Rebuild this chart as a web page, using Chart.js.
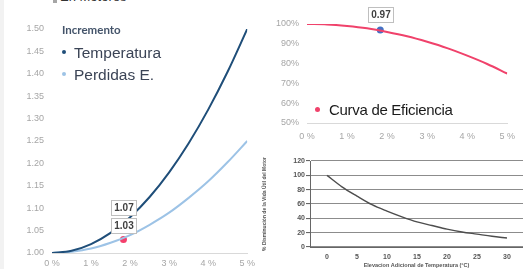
<!DOCTYPE html>
<html>
<head>
<meta charset="utf-8">
<script src="https://cdn.jsdelivr.net/npm/chart.js@4.4.1/dist/chart.umd.min.js"></script>
<style>
  html, body { margin: 0; padding: 0; background: #fff; }
  #wrap { position: relative; width: 523px; height: 269px; overflow: hidden; background: #fff; font-family: "Liberation Sans", Arial, sans-serif; }
  #wrap canvas { position: absolute; }
  .strip { position: absolute; left: 0; top: 0; width: 4px; height: 269px; background: #f2f2f2; }
  .head { position: absolute; left: 60px; top: -10px; font-size: 13px; line-height: 13px; color: #333; white-space: nowrap; }
  .sq { position: absolute; left: 53px; top: 0; width: 4px; height: 3px; background: #a6a6a6; }
  .lg { position: absolute; white-space: nowrap; }
  .dot { position: absolute; border-radius: 50%; }
  #vidaChart { filter: blur(0.55px); }
</style>
</head>
<body>
<div id="wrap">
  <div class="strip"></div>
  <div class="sq"></div>
  <div class="head">En Motores</div>
  <canvas id="incrementoChart" width="260" height="269" style="left:0;top:0"></canvas>
  <canvas id="eficienciaChart" width="263" height="145" style="left:260px;top:0"></canvas>
  <canvas id="vidaChart" width="263" height="129" style="left:260px;top:140px"></canvas>

  <div class="lg" style="left:62px;top:24px;font:bold 11.5px Lato, sans-serif;line-height:11.5px;color:#44546a">Incremento</div>
  <div class="dot" style="left:62px;top:50px;width:4px;height:4px;background:#1f4e79"></div>
  <div class="lg" style="left:74px;top:45px;font-size:15.5px;line-height:15.5px;color:#3b4456">Temperatura</div>
  <div class="dot" style="left:62px;top:72px;width:4px;height:4px;background:#9dc3e6"></div>
  <div class="lg" style="left:74px;top:67px;font-size:15.5px;line-height:15.5px;color:#3b4456">Perdidas E.</div>

  <div class="dot" style="left:315px;top:107px;width:5px;height:5px;background:#f0426b"></div>
  <div class="lg" style="left:329px;top:102px;font-size:15px;line-height:15px;letter-spacing:-0.3px;color:#1a1a1a">Curva de Eficiencia</div>
</div>

<script>
// desbalance de tension (%)
const desbalance = [0, 0.5, 1, 1.5, 2, 2.5, 3, 3.5, 4, 4.5, 5];
const temperatura = [1.000, 1.005, 1.020, 1.045, 1.080, 1.125, 1.180, 1.245, 1.320, 1.405, 1.500];
const perdidas = [1.000, 1.003, 1.010, 1.023, 1.040, 1.063, 1.090, 1.123, 1.160, 1.203, 1.250];
const eficiencia = [1.000, 0.998, 0.990, 0.978, 0.960, 0.938, 0.910, 0.878, 0.840, 0.798, 0.750];

// punto de operacion actual
const puntoActual = 1.83;
const tempActual = 1.07;
const perdActual = 1.03;
const efActual = 0.97;

// vida util vs elevacion de temperatura
const elevacion = [0, 2.5, 5, 7.5, 10, 12.5, 15, 17.5, 20, 22.5, 25, 27.5, 30];
const vidaUtil = [100, 84, 71, 59, 50, 42, 35, 30, 25, 21, 18, 15, 12.5];

// ticks
const desbalanceTicks = [0, 1, 2, 3, 4, 5];
const desbalanceLabels = ['0 %', '1 %', '2 %', '3 %', '4 %', '5 %'];
const incrementoTicks = [1.00, 1.05, 1.10, 1.15, 1.20, 1.25, 1.30, 1.35, 1.40, 1.45, 1.50];
const incrementoLabels = ['1.00', '1.05', '1.10', '1.15', '1.20', '1.25', '1.30', '1.35', '1.40', '1.45', '1.50'];
const eficienciaTicks = [0.5, 0.6, 0.7, 0.8, 0.9, 1.0];
const eficienciaLabels = ['50%', '60%', '70%', '80%', '90%', '100%'];
const elevacionTicks = [0, 5, 10, 15, 20, 25, 30];
const vidaTicks = [0, 20, 40, 60, 80, 100, 120];

Chart.defaults.font.family = '"Liberation Sans", Arial, sans-serif';
Chart.defaults.animation = false;

const toPoints = (xs, ys) => xs.map((x, i) => ({ x, y: ys[i] }));
const fixTicks = (values) => (scale) => { scale.ticks = values.map(v => ({ value: v })); };

// cajas de etiqueta sobre el punto actual
const boxLabels = {
    id: 'boxLabels',
    afterDatasetsDraw(chart, args, opts) {
        const pt = chart.getDatasetMeta(opts.dataset).data[0];
        if (!pt) return;
        const ctx = chart.ctx;
        ctx.save();
        ctx.font = 'bold 10px "Liberation Sans", Arial';
        ctx.textAlign = 'center';
        ctx.textBaseline = 'middle';
        opts.items.forEach(it => {
            const w = Math.round(ctx.measureText(it.text).width + 6);
            const h = 15;
            const x0 = Math.round(pt.x - w / 2) + 0.5;
            const y0 = Math.round(pt.y + it.dy - h / 2) + 0.5;
            ctx.fillStyle = '#fff';
            ctx.fillRect(x0, y0, w, h);
            ctx.strokeStyle = '#bfbfbf';
            ctx.lineWidth = 1;
            ctx.strokeRect(x0, y0, w, h);
            ctx.fillStyle = '#404040';
            ctx.fillText(it.text, x0 + w / 2, y0 + h / 2 + 0.5);
        });
        ctx.restore();
    }
};

function createIncrementoChart() {
    const ctx = document.getElementById('incrementoChart').getContext('2d');
    return new Chart(ctx, {
        type: 'line',
        data: {
            datasets: [{
                label: 'Temperatura',
                data: toPoints(desbalance, temperatura),
                borderColor: '#1f4e79',
                borderWidth: 2,
                pointRadius: 0,
                cubicInterpolationMode: 'monotone'
            }, {
                label: 'Perdidas E.',
                data: toPoints(desbalance, perdidas),
                borderColor: '#9dc3e6',
                borderWidth: 2,
                pointRadius: 0,
                cubicInterpolationMode: 'monotone'
            }, {
                label: 'Actual',
                data: [{ x: puntoActual, y: perdActual }],
                showLine: false,
                pointRadius: 3.5,
                pointBackgroundColor: '#f43f6b',
                pointBorderWidth: 0
            }]
        },
        options: {
            responsive: false,
            devicePixelRatio: 1,
            layout: { padding: { top: 29, right: 9, left: 0, bottom: 0 } },
            plugins: {
                legend: { display: false },
                tooltip: { enabled: false },
                boxLabels: {
                    dataset: 2,
                    items: [{ text: tempActual.toFixed(2), dy: -32 }, { text: perdActual.toFixed(2), dy: -14.5 }]
                }
            },
            scales: {
                x: {
                    type: 'linear', min: 0, max: 5,
                    afterBuildTicks: fixTicks(desbalanceTicks),
                    afterFit: (s) => { s.height = 16; },
                    grid: { display: false, drawTicks: false },
                    border: { display: true, color: '#d9d9d9', width: 1 },
                    ticks: { padding: 5, color: '#a6a6a6', font: { size: 9 }, maxRotation: 0,
                        callback: (v, i) => desbalanceLabels[i] }
                },
                y: {
                    min: 1, max: 1.5,
                    afterBuildTicks: fixTicks(incrementoTicks),
                    afterFit: (s) => { s.width = 52; },
                    grid: { display: false, drawTicks: false },
                    border: { display: false },
                    ticks: { padding: 8, color: '#a6a6a6', font: { size: 9 },
                        callback: (v, i) => incrementoLabels[i] }
                }
            }
        },
        plugins: [boxLabels]
    });
}

function createEficienciaChart() {
    const ctx = document.getElementById('eficienciaChart').getContext('2d');
    return new Chart(ctx, {
        type: 'line',
        data: {
            datasets: [{
                label: 'Curva de Eficiencia',
                data: toPoints(desbalance, eficiencia),
                borderColor: '#f0426b',
                borderWidth: 2,
                pointRadius: 0,
                cubicInterpolationMode: 'monotone'
            }, {
                label: 'Actual',
                data: [{ x: puntoActual, y: efActual }],
                showLine: false,
                pointRadius: 3.5,
                pointBackgroundColor: '#4472c4',
                pointBorderWidth: 0
            }]
        },
        options: {
            responsive: false,
            devicePixelRatio: 1,
            layout: { padding: { top: 24, right: 10, left: 0, bottom: 0 } },
            plugins: {
                legend: { display: false },
                tooltip: { enabled: false },
                boxLabels: { dataset: 1, items: [{ text: efActual.toFixed(2), dy: -15.5 }] }
            },
            scales: {
                x: {
                    type: 'linear', min: 0, max: 5,
                    afterBuildTicks: fixTicks(desbalanceTicks),
                    afterFit: (s) => { s.height = 22; },
                    grid: { display: false, drawTicks: false },
                    border: { display: true, color: '#d9d9d9', width: 1 },
                    ticks: { padding: 8, color: '#a6a6a6', font: { size: 9 }, maxRotation: 0,
                        callback: (v, i) => desbalanceLabels[i] }
                },
                y: {
                    min: 0.5, max: 1.0,
                    afterBuildTicks: fixTicks(eficienciaTicks),
                    afterFit: (s) => { s.width = 47; },
                    grid: { display: false, drawTicks: false },
                    border: { display: false },
                    ticks: { padding: 8, color: '#a6a6a6', font: { size: 9 },
                        callback: (v, i) => eficienciaLabels[i] }
                }
            }
        },
        plugins: [boxLabels]
    });
}

function createVidaChart() {
    const ctx = document.getElementById('vidaChart').getContext('2d');
    return new Chart(ctx, {
        type: 'line',
        data: {
            datasets: [{
                label: 'Vida util',
                data: toPoints(elevacion, vidaUtil),
                borderColor: '#4d4d4d',
                borderWidth: 1.4,
                pointRadius: 0,
                cubicInterpolationMode: 'monotone'
            }]
        },
        options: {
            responsive: false,
            devicePixelRatio: 1,
            layout: { padding: { top: 21, right: 0, left: 0, bottom: 0 } },
            plugins: { legend: { display: false }, tooltip: { enabled: false } },
            scales: {
                x: {
                    type: 'linear', min: -2.83, max: 32.67,
                    afterBuildTicks: fixTicks(elevacionTicks),
                    afterFit: (s) => { s.height = 22; },
                    grid: { display: false, drawTicks: false },
                    border: { display: true, color: '#666', width: 1 },
                    ticks: { padding: 6, color: '#555', font: { size: 7, weight: 'bold' }, maxRotation: 0 },
                    title: { display: true, text: 'Elevacion Adicional de Temperatura (°C)',
                        color: '#555', font: { size: 5.5, weight: 'bold' }, padding: { top: 0, bottom: 0 } }
                },
                y: {
                    min: 0, max: 120,
                    afterBuildTicks: fixTicks(vidaTicks),
                    afterFit: (s) => { s.width = 50; },
                    grid: { color: '#8c8c8c', lineWidth: 1.1, drawTicks: true, tickLength: 4, tickColor: '#666' },
                    border: { display: true, color: '#666', width: 1 },
                    ticks: { padding: 1, color: '#555', font: { size: 7, weight: 'bold' } },
                    title: { display: true, text: '% Disminución de la Vida Útil del Motor',
                        color: '#555', font: { size: 5, weight: 'bold' }, padding: { top: 2, bottom: 0 } }
                }
            }
        }
    });
}

createIncrementoChart();
createEficienciaChart();
createVidaChart();
</script>
</body>
</html>
